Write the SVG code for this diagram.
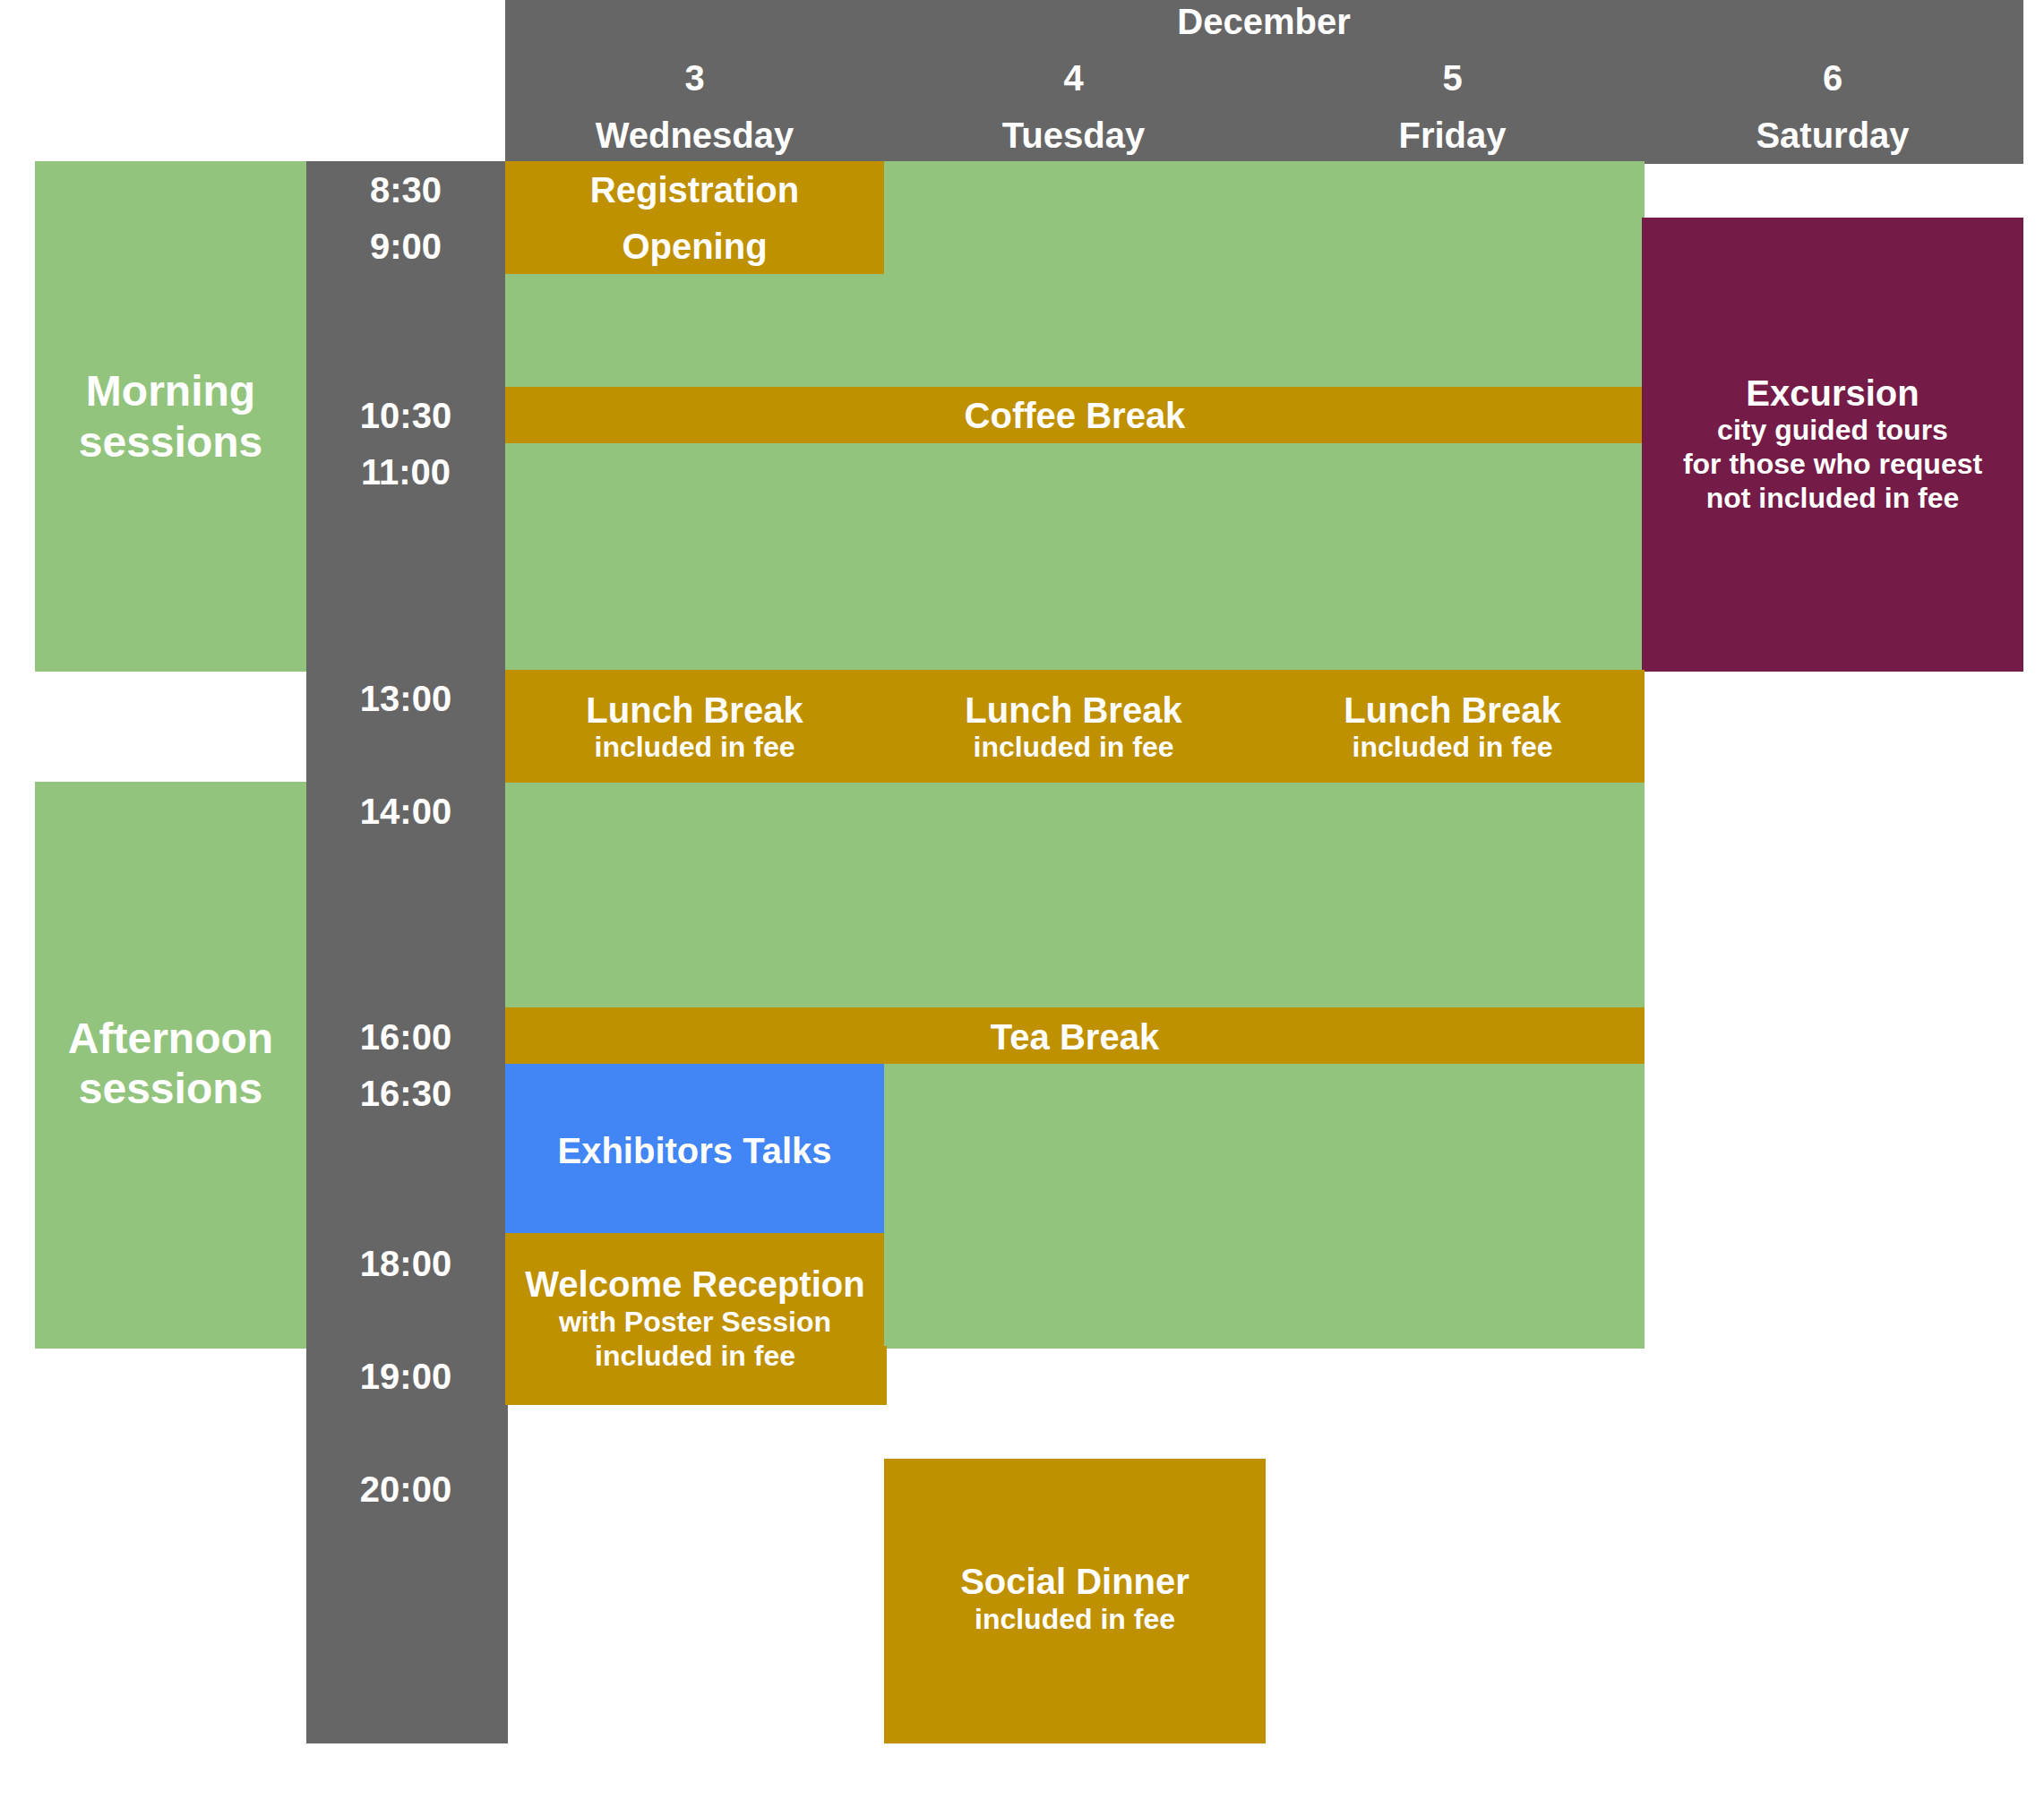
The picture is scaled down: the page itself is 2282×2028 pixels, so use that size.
<svg xmlns="http://www.w3.org/2000/svg" width="2282" height="2028" viewBox="0 0 2282 2028">
<style>
.gray{fill:#666666}
.green{fill:#93C47D}
.gold{fill:#BF9000}
.maroon{fill:#741B47}
.blue{fill:#4285F4}
text{font-family:"Liberation Sans",Arial,sans-serif;font-weight:bold;fill:#FFFFFF;text-anchor:middle}
.t40{font-size:40px}
.t48{font-size:48px}
.t32{font-size:32px}
</style>
<rect x="0" y="0" width="2282" height="2028" fill="#FFFFFF"/>
<g id="header">
  <rect class="gray" x="564" y="0" width="1270" height="180"/>
  <rect class="gray" x="1833" y="0" width="426" height="183"/>
  <text class="t40" x="1411" y="38">December</text>
  <text class="t40" x="775.5" y="100.5">3</text>
  <text class="t40" x="1198.5" y="100.5">4</text>
  <text class="t40" x="1621.5" y="100.5">5</text>
  <text class="t40" x="2046" y="100.5">6</text>
  <text class="t40" x="775.5" y="164.5">Wednesday</text>
  <text class="t40" x="1198.5" y="164.5">Tuesday</text>
  <text class="t40" x="1621.5" y="164.5">Friday</text>
  <text class="t40" x="2046" y="164.5">Saturday</text>
</g>
<g id="morning-label">
  <rect class="green" x="39" y="180" width="303" height="570"/>
  <text class="t48" x="190.5" y="453">Morning</text>
  <text class="t48" x="190.5" y="509.5">sessions</text>
</g>
<g id="afternoon-label">
  <rect class="green" x="39" y="873" width="303" height="633"/>
  <text class="t48" x="190.5" y="1176">Afternoon</text>
  <text class="t48" x="190.5" y="1232.3">sessions</text>
</g>
<g id="time-column">
  <rect class="gray" x="342" y="180" width="225" height="1767"/>
  <text class="t40" x="453" y="226">8:30</text>
  <text class="t40" x="453" y="289.3">9:00</text>
  <text class="t40" x="453" y="478">10:30</text>
  <text class="t40" x="453" y="541">11:00</text>
  <text class="t40" x="453" y="793.5">13:00</text>
  <text class="t40" x="453" y="919.7">14:00</text>
  <text class="t40" x="453" y="1172">16:00</text>
  <text class="t40" x="453" y="1235">16:30</text>
  <text class="t40" x="453" y="1424.5">18:00</text>
  <text class="t40" x="453" y="1550.5">19:00</text>
  <text class="t40" x="453" y="1676.8">20:00</text>
</g>
<g id="sessions">
  <rect class="green" x="564" y="180" width="1272" height="1326"/>
</g>
<g id="registration">
  <rect class="gold" x="564" y="180" width="423" height="126"/>
  <text class="t40" x="775.5" y="226">Registration</text>
  <text class="t40" x="775.5" y="289">Opening</text>
</g>
<g id="coffee-break">
  <rect class="gold" x="564" y="432" width="1269" height="63"/>
  <text class="t40" x="1200" y="478">Coffee Break</text>
</g>
<g id="excursion">
  <rect class="maroon" x="1833" y="243" width="426" height="507"/>
  <text class="t40" x="2046" y="452.7">Excursion</text>
  <text class="t32" x="2046" y="490.7">city guided tours</text>
  <text class="t32" x="2046" y="529">for those who request</text>
  <text class="t32" x="2046" y="567.3">not included in fee</text>
</g>
<g id="lunch-3">
  <rect class="gold" x="564" y="748" width="423" height="126"/>
  <text class="t40" x="775.5" y="806.6">Lunch Break</text>
  <text class="t32" x="775.5" y="845.4">included in fee</text>
</g>
<g id="lunch-4">
  <rect class="gold" x="987" y="748" width="423" height="126"/>
  <text class="t40" x="1198.5" y="806.6">Lunch Break</text>
  <text class="t32" x="1198.5" y="845.4">included in fee</text>
</g>
<g id="lunch-5">
  <rect class="gold" x="1410" y="748" width="426" height="126"/>
  <text class="t40" x="1621.5" y="806.6">Lunch Break</text>
  <text class="t32" x="1621.5" y="845.4">included in fee</text>
</g>
<g id="tea-break">
  <rect class="gold" x="564" y="1125" width="1272" height="63"/>
  <text class="t40" x="1200" y="1172">Tea Break</text>
</g>
<g id="exhibitors-talks">
  <rect class="blue" x="564" y="1188" width="423" height="189"/>
  <text class="t40" x="775.5" y="1298.5">Exhibitors Talks</text>
</g>
<g id="welcome-reception">
  <path class="gold" d="M564,1377 H987 V1503 H990 V1569 H564 Z"/>
  <text class="t40" x="776" y="1447.7">Welcome Reception</text>
  <text class="t32" x="776" y="1486.7">with Poster Session</text>
  <text class="t32" x="776" y="1525">included in fee</text>
</g>
<g id="social-dinner">
  <rect class="gold" x="987" y="1629" width="426" height="318"/>
  <text class="t40" x="1200" y="1780">Social Dinner</text>
  <text class="t32" x="1200" y="1818.5">included in fee</text>
</g>
<g id="connectors"></g>
</svg>
